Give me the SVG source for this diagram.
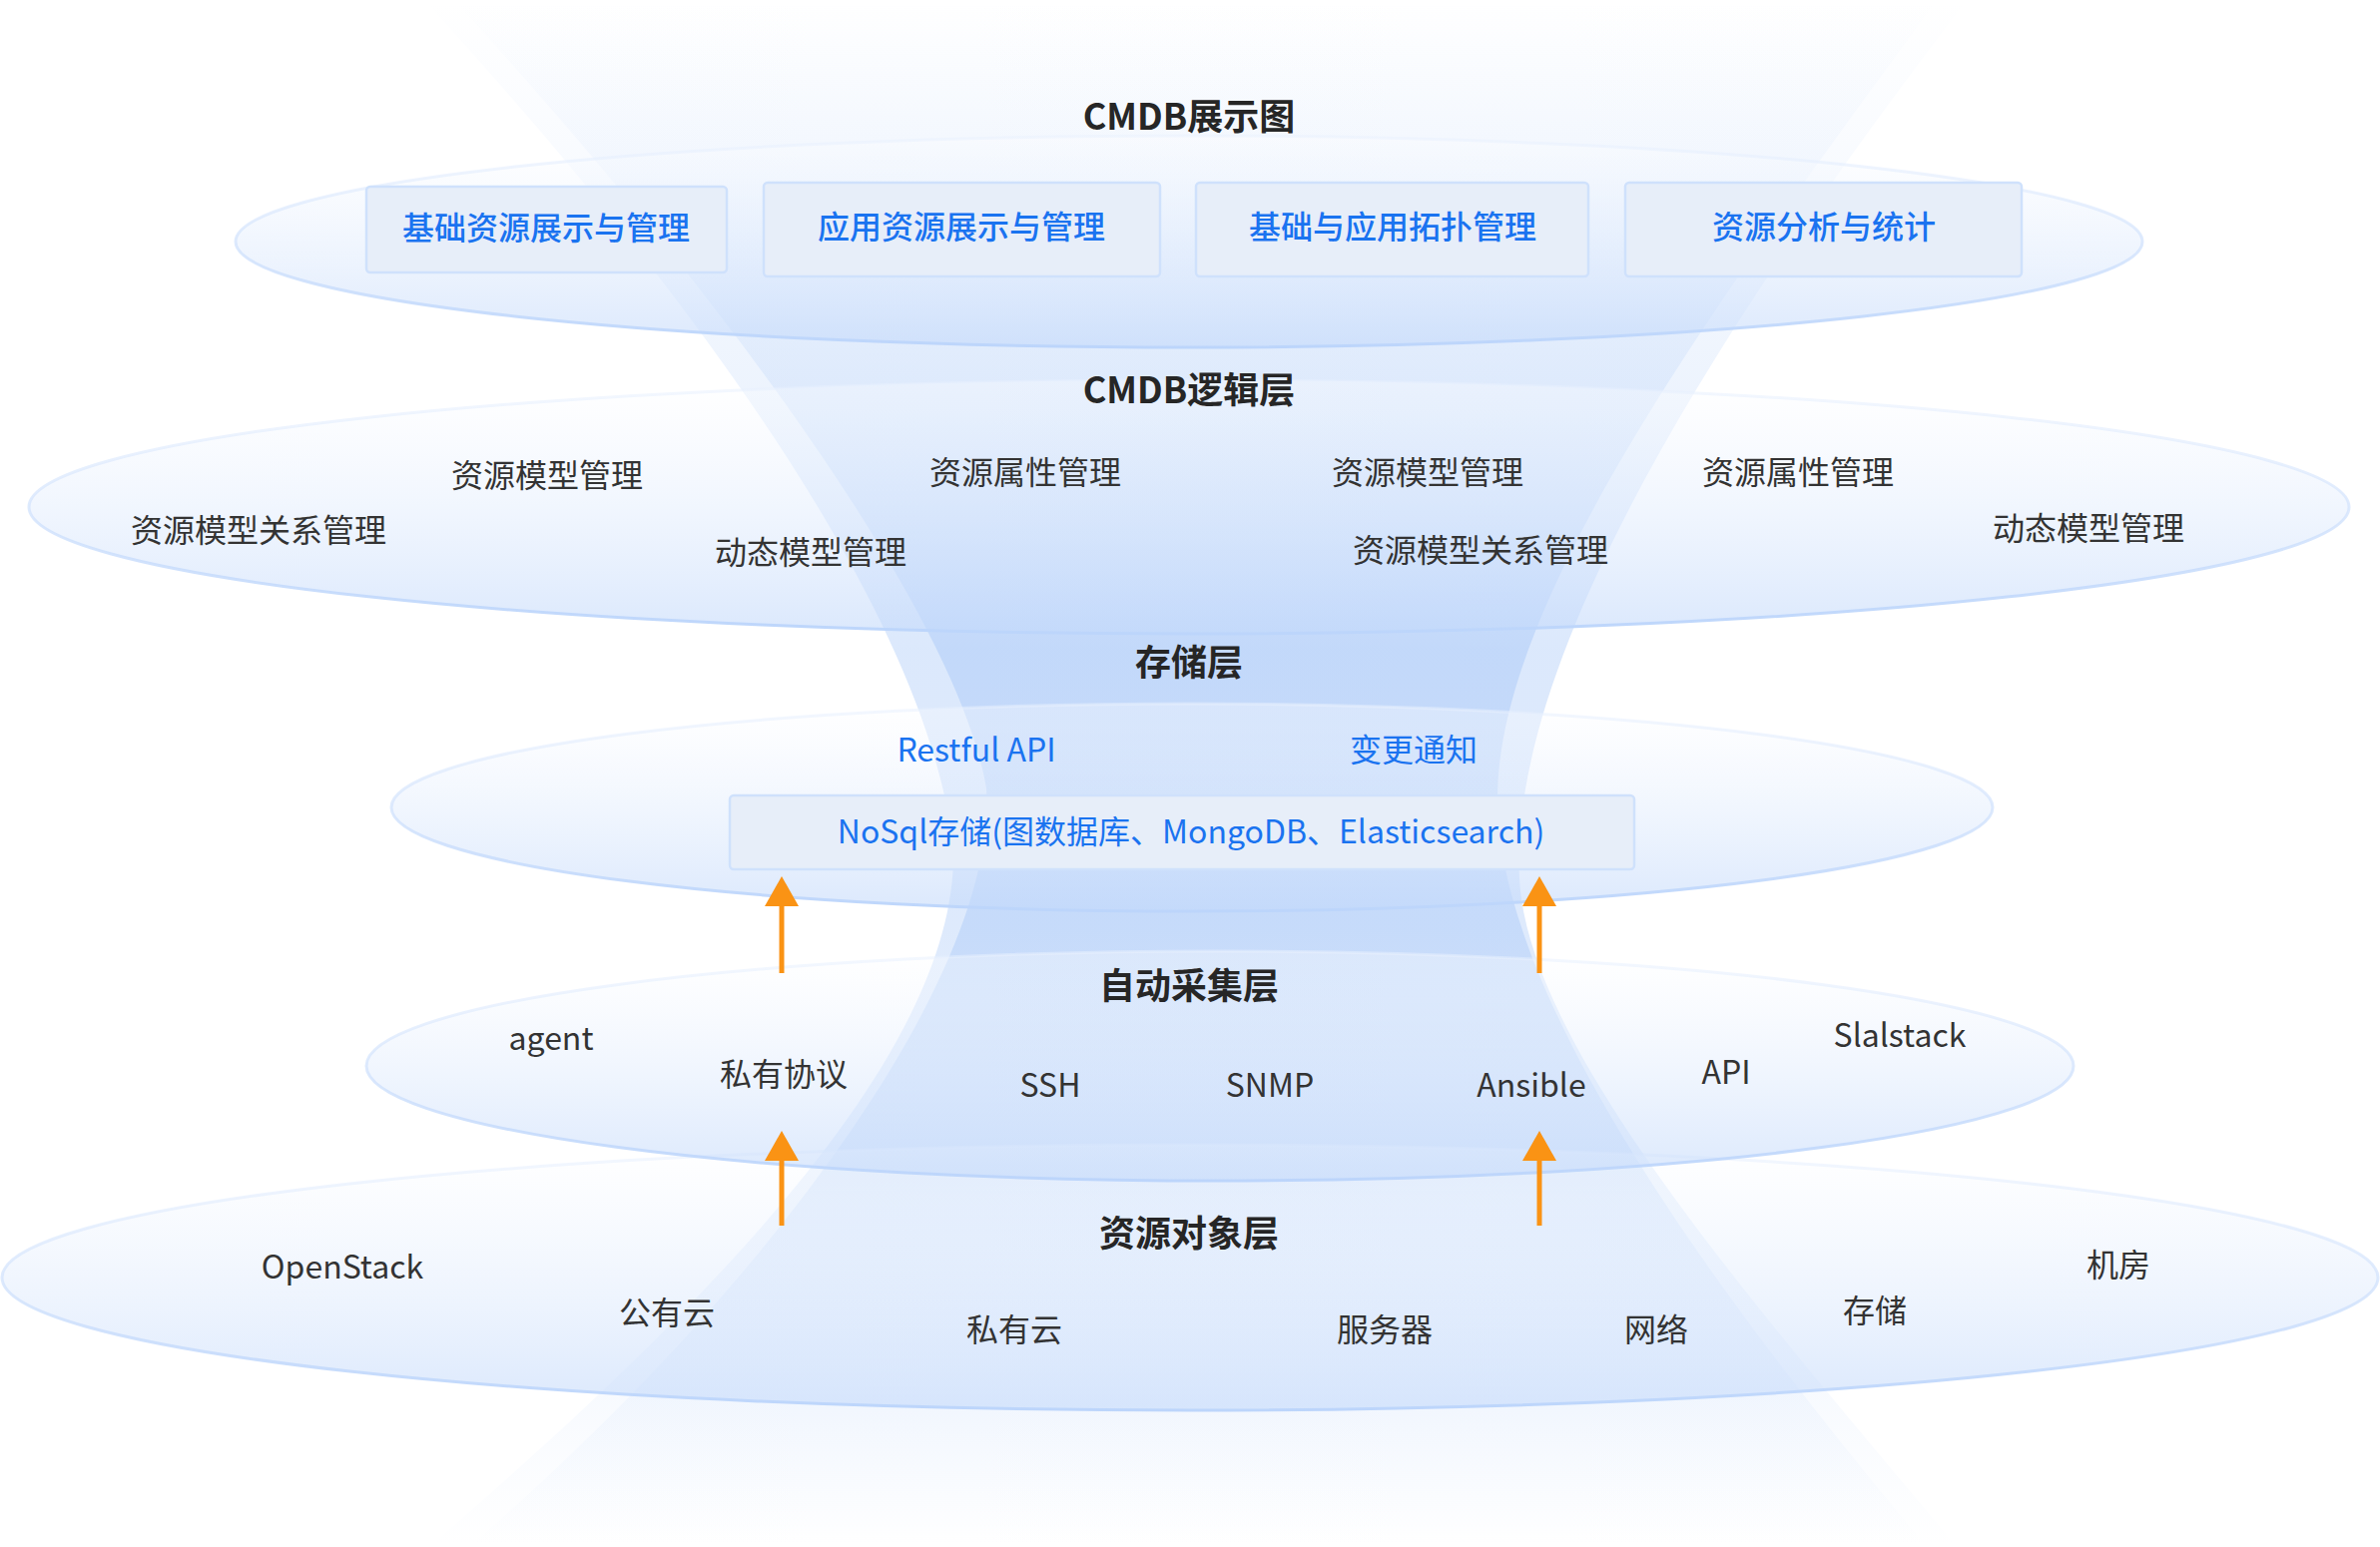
<svg xmlns="http://www.w3.org/2000/svg" width="2384" height="1550" viewBox="0 0 2384 1550">
<defs>
<style>
.t{font-family:"Noto Sans CJK SC","Noto Sans",sans-serif;text-anchor:middle;dominant-baseline:central}
.title{font-size:36px;font-weight:700;fill:#262626}
.item{font-size:32px;font-weight:400;fill:#333333}
.blue{font-size:32px;font-weight:400;fill:#1a73f0}
.btxt{font-size:32px;font-weight:500;fill:#1a73f0}
.layer{fill:url(#layerFill);stroke:url(#layerStroke);stroke-width:3}
.box{fill:#e7eef9;stroke:#cfe1fc;stroke-width:2.5}
.funnel{fill:url(#funnelGrad)}
.arrow{stroke:#fa9314;stroke-width:5;fill:none;marker-end:url(#ah)}
</style>
<linearGradient id="funnelGrad" gradientUnits="userSpaceOnUse" x1="0" y1="0" x2="0" y2="1550">
<stop offset="0" stop-color="#8fb8f5" stop-opacity="0"/>
<stop offset="0.12" stop-color="#8fb8f5" stop-opacity="0.07"/>
<stop offset="0.25" stop-color="#8fb8f5" stop-opacity="0.16"/>
<stop offset="0.42" stop-color="#89b4f5" stop-opacity="0.3"/>
<stop offset="0.6" stop-color="#89b4f5" stop-opacity="0.28"/>
<stop offset="0.75" stop-color="#8fb8f5" stop-opacity="0.2"/>
<stop offset="0.9" stop-color="#9fc2f7" stop-opacity="0.08"/>
<stop offset="1" stop-color="#9fc2f7" stop-opacity="0"/>
</linearGradient>
<linearGradient id="layerFill" x1="0" y1="0" x2="0" y2="1">
<stop offset="0" stop-color="#ffffff" stop-opacity="0.35"/>
<stop offset="1" stop-color="#c3d9fb" stop-opacity="0.6"/>
</linearGradient>
<linearGradient id="layerStroke" x1="0" y1="0" x2="0" y2="1">
<stop offset="0" stop-color="#e9f1fe" stop-opacity="0.5"/>
<stop offset="1" stop-color="#bcd5fb"/>
</linearGradient>
<marker id="ah" viewBox="0 0 30 34" refX="2" refY="17" markerWidth="30" markerHeight="34" markerUnits="userSpaceOnUse" orient="auto">
<path d="M0,0 L30,17 L0,34 Z" fill="#fa9314"/>
</marker>
</defs>
<rect x="0" y="0" width="2384" height="1550" fill="#ffffff"/>

<g id="funnel">
<path class="funnel" d="M425,0 C700,300 930,620 955,850 C960,1050 720,1300 430,1550 L1960,1550 C1760,1310 1530,1050 1522,880 C1510,650 1740,300 1970,0 Z"/>
<path class="funnel" d="M455,0 C730,300 960,620 988,790 C1000,980 760,1300 470,1550 L1930,1550 C1720,1300 1500,1000 1500,800 C1500,600 1720,300 1940,0 Z"/>
</g>

<g id="layer-resource">
<ellipse class="layer" cx="1192" cy="1280" rx="1190" ry="133"/>
<text class="t title" x="1191" y="1233">资源对象层</text>
<text class="t item" x="343" y="1267">OpenStack</text>
<text class="t item" x="668" y="1313">公有云</text>
<text class="t item" x="1016" y="1330">私有云</text>
<text class="t item" x="1387" y="1330">服务器</text>
<text class="t item" x="1659" y="1330">网络</text>
<text class="t item" x="1878" y="1311">存储</text>
<text class="t item" x="2122" y="1265">机房</text>
</g>

<g id="layer-collect">
<ellipse class="layer" cx="1222" cy="1068" rx="855" ry="115"/>
<text class="t title" x="1191" y="985">自动采集层</text>
<text class="t item" x="552" y="1038">agent</text>
<text class="t item" x="785" y="1074">私有协议</text>
<text class="t item" x="1052" y="1085">SSH</text>
<text class="t item" x="1272" y="1085">SNMP</text>
<text class="t item" x="1534" y="1085">Ansible</text>
<text class="t item" x="1729" y="1072">API</text>
<text class="t item" x="1903" y="1035">Slalstack</text>
</g>

<g id="layer-storage">
<ellipse class="layer" cx="1194" cy="809" rx="802" ry="104"/>
<text class="t title" x="1191" y="661">存储层</text>
<text class="t blue" x="978" y="749">Restful API</text>
<text class="t blue" x="1416" y="749">变更通知</text>
</g>
<g id="node-nosql">
<rect class="box" x="731" y="797" width="906" height="74" rx="4"/>
<text class="t blue" x="1193" y="831">NoSql存储(图数据库、MongoDB、Elasticsearch)</text>
</g>

<g id="layer-logic">
<ellipse class="layer" cx="1191" cy="508" rx="1162" ry="127"/>
<text class="t title" x="1191" y="388">CMDB逻辑层</text>
<text class="t item" x="548" y="474">资源模型管理</text>
<text class="t item" x="259" y="529">资源模型关系管理</text>
<text class="t item" x="812" y="551">动态模型管理</text>
<text class="t item" x="1027" y="471">资源属性管理</text>
<text class="t item" x="1430" y="471">资源模型管理</text>
<text class="t item" x="1483" y="549">资源模型关系管理</text>
<text class="t item" x="1801" y="471">资源属性管理</text>
<text class="t item" x="2092" y="527">动态模型管理</text>
</g>

<g id="layer-display">
<ellipse class="layer" cx="1191" cy="242" rx="955" ry="106"/>
<text class="t title" x="1191" y="114">CMDB展示图</text>
</g>
<g id="node-box1">
<rect class="box" x="367" y="187" width="361" height="86" rx="4"/>
<text class="t btxt" x="547" y="226">基础资源展示与管理</text>
</g>
<g id="node-box2">
<rect class="box" x="765" y="183" width="397" height="94" rx="4"/>
<text class="t btxt" x="963" y="225">应用资源展示与管理</text>
</g>
<g id="node-box3">
<rect class="box" x="1198" y="183" width="393" height="94" rx="4"/>
<text class="t btxt" x="1395" y="225">基础与应用拓扑管理</text>
</g>
<g id="node-box4">
<rect class="box" x="1628" y="183" width="397" height="94" rx="4"/>
<text class="t btxt" x="1827" y="225">资源分析与统计</text>
</g>

<g id="connectors">
<line class="arrow" x1="783" y1="975" x2="783" y2="906"/>
<line class="arrow" x1="1542" y1="975" x2="1542" y2="906"/>
<line class="arrow" x1="783" y1="1228" x2="783" y2="1161"/>
<line class="arrow" x1="1542" y1="1228" x2="1542" y2="1161"/>
</g>
</svg>
